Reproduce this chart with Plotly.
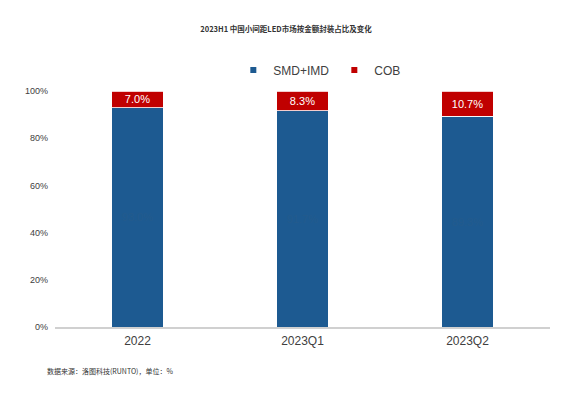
import plotly.graph_objects as go

categories = ["2022", "2023Q1", "2023Q2"]
smd_imd = [0.930, 0.917, 0.893]
cob = [0.070, 0.083, 0.107]
y_ticks = [0, 0.2, 0.4, 0.6, 0.8, 1.0]
y_tick_labels = ["0%", "20%", "40%", "60%", "80%", "100%"]

BLUE = "#1d5a91"
RED = "#c00000"

fig = go.Figure()
fig.add_trace(go.Bar(
    x=categories, y=smd_imd, name="SMD+IMD", showlegend=False,
    marker=dict(color=BLUE, line=dict(color="white", width=0.8)),
    text=[f"{v*100:.1f}%" for v in smd_imd], textposition="inside",
    insidetextanchor="middle", constraintext="none",
    textfont=dict(color="#235b8d", size=11, family="Liberation Sans, Arial"),
))
fig.add_trace(go.Bar(
    x=categories, y=cob, name="COB", showlegend=False,
    marker=dict(color=RED, line=dict(color="white", width=0.8)),
    text=[f"{v*100:.1f}%" for v in cob], textposition="inside",
    insidetextanchor="middle", constraintext="none",
    textfont=dict(color="white", size=11, family="Liberation Sans, Arial"),
))
# legend-only entries with small square swatches
for name, col in [("SMD+IMD", BLUE), ("COB", RED)]:
    fig.add_trace(go.Scatter(
        x=[None], y=[None], mode="markers", name=name,
        marker=dict(symbol="square", size=6, color=col),
    ))

fig.update_layout(
    width=572, height=395,
    barmode="stack",
    bargap=0.69,
    paper_bgcolor="white", plot_bgcolor="white",
    margin=dict(l=55, r=22, t=91, b=68),
    font=dict(family="Liberation Sans, Arial, sans-serif", color="#404040"),
    title=dict(
        text="<b>2023H1 中国小间距LED市场按金额封装占比及变化</b>",
        x=0.5, xanchor="center", y=1 - 29 / 395, yanchor="middle",
        font=dict(size=7.5, color="#333333", family="Noto Sans CJK SC, sans-serif"),
    ),
    legend=dict(
        orientation="h", x=0.535, xanchor="center",
        y=1.089, yanchor="middle",
        font=dict(size=12, color="#404040"),
        itemwidth=30, traceorder="normal",
    ),
    showlegend=True,
)
fig.update_xaxes(
    showline=True, linecolor="#d0d0d0", linewidth=1.5,
    ticks="", tickfont=dict(size=12, color="#404040"),
    showgrid=False, ticklabelstandoff=2,
)
fig.update_yaxes(
    range=[0, 1.0], tickvals=y_ticks, ticktext=y_tick_labels,
    showgrid=False, zeroline=False, showline=False,
    tickfont=dict(size=9, color="#404040"),
    ticklabelstandoff=6,
)
fig.add_annotation(
    text="数据来源：洛图科技(RUNTO)，单位：%",
    xref="paper", yref="paper", x=-0.02, y=-0.186,
    xanchor="left", yanchor="middle", showarrow=False,
    font=dict(size=7, color="#333333", family="Noto Sans CJK SC, sans-serif"),
)

fig.write_html("out.html", config={"displayModeBar": False},
               post_script="document.body.style.margin='0';")
